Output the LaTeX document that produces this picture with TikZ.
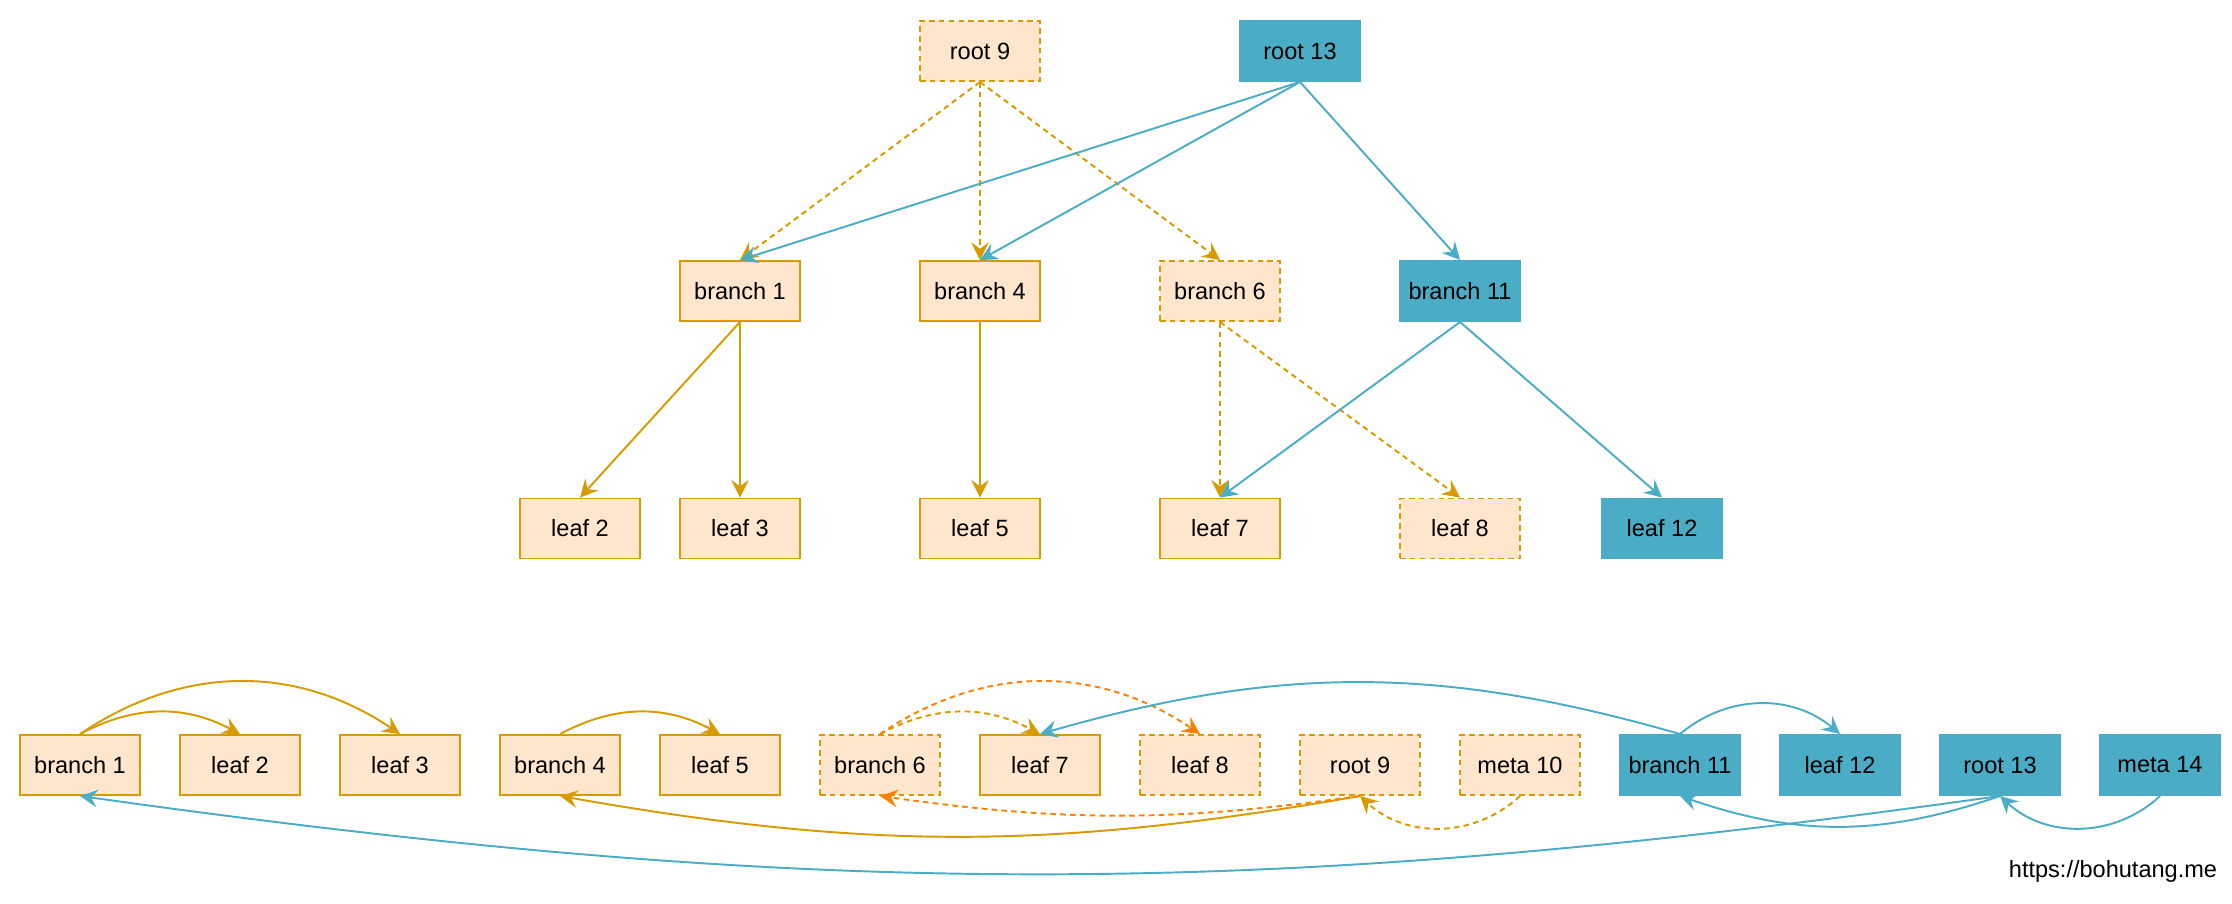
\documentclass[tikz,border=0pt]{standalone}
\usepackage{fontspec}
\setmainfont{Liberation Sans}
\usetikzlibrary{arrows.meta}
\definecolor{lineorange}{HTML}{D79B00}
\definecolor{fillorange}{HTML}{FFE6CC}
\definecolor{hotorange}{HTML}{FF8000}
\definecolor{nodeblue}{HTML}{4BACC6}
\begin{document}
\begin{tikzpicture}[>={Stealth[length=5pt, width=5pt, inset=1.8pt]}, font=\fontsize{6.7}{8}\selectfont, line width=0.55pt,
        dashline/.style={dash pattern=on 1.6pt off 1.2pt},
        page/.style={draw=lineorange, fill=fillorange, rectangle, minimum width=1.2cm, minimum height=0.6cm, inner sep=0pt},
        freed/.style={page, dashline},
        cow/.style={draw=nodeblue, fill=nodeblue, rectangle, minimum width=1.2cm, minimum height=0.6cm, inner sep=0pt}]
        \useasboundingbox (0, 0) rectangle (22.32, -9.04);

        % Tree: roots
        \node[freed] (root9) at (9.8, -0.51) {root 9};
        \node[cow] (root13) at (13.0, -0.51) {root 13};

        % Tree: branches
        \node[page] (branch1) at (7.4, -2.91) {branch 1};
        \node[page] (branch4) at (9.8, -2.91) {branch 4};
        \node[freed] (branch6) at (12.2, -2.91) {branch 6};
        \node[cow] (branch11) at (14.6, -2.91) {branch 11};

        % Tree: leaves
        \node[page] (leaf2) at (5.8, -5.285) {leaf 2};
        \node[page] (leaf3) at (7.4, -5.285) {leaf 3};
        \node[page] (leaf5) at (9.8, -5.285) {leaf 5};
        \node[page] (leaf7) at (12.2, -5.285) {leaf 7};
        \node[freed] (leaf8) at (14.6, -5.285) {leaf 8};
        \node[cow] (leaf12) at (16.62, -5.285) {leaf 12};

        % Tree: links
        \draw[->, lineorange, dashline] (root9.south) -- (branch1.north);
        \draw[->, lineorange, dashline] (root9.south) -- (branch4.north);
        \draw[->, lineorange, dashline] (root9.south) -- (branch6.north);
        \draw[->, nodeblue] (root13.south) -- (branch1.north);
        \draw[->, nodeblue] (root13.south) -- (branch4.north);
        \draw[->, nodeblue] (root13.south) -- (branch11.north);
        \draw[->, lineorange] (branch1.south) -- (leaf2.north);
        \draw[->, lineorange] (branch1.south) -- (leaf3.north);
        \draw[->, lineorange] (branch4.south) -- (leaf5.north);
        \draw[->, lineorange, dashline] (branch6.south) -- (leaf7.north);
        \draw[->, lineorange, dashline] (branch6.south) -- (leaf8.north);
        \draw[->, nodeblue] (branch11.south) -- (leaf7.north);
        \draw[->, nodeblue] (branch11.south) -- (leaf12.north);

        % Pages on disk
        \node[page] (slot1) at (0.8, -7.65) {branch 1};
        \node[page] (slot2) at (2.4, -7.65) {leaf 2};
        \node[page] (slot3) at (4.0, -7.65) {leaf 3};
        \node[page] (slot4) at (5.6, -7.65) {branch 4};
        \node[page] (slot5) at (7.2, -7.65) {leaf 5};
        \node[freed] (slot6) at (8.8, -7.65) {branch 6};
        \node[page] (slot7) at (10.4, -7.65) {leaf 7};
        \node[freed] (slot8) at (12.0, -7.65) {leaf 8};
        \node[freed] (slot9) at (13.6, -7.65) {root 9};
        \node[freed] (slot10) at (15.2, -7.65) {meta 10};
        \node[cow] (slot11) at (16.8, -7.65) {branch 11};
        \node[cow] (slot12) at (18.4, -7.65) {leaf 12};
        \node[cow] (slot13) at (20.0, -7.65) {root 13};
        \node[cow] (slot14) at (21.6, -7.65) {meta 14};

        % Pointers above the pages
        \draw[->, lineorange] (slot1.north) to[bend left=28] (slot2.north);
        \draw[->, lineorange] (slot1.north) to[bend left=34] (slot3.north);
        \draw[->, lineorange] (slot4.north) to[bend left=28] (slot5.north);
        \draw[->, lineorange, dashline] (slot6.north) to[bend left=28] (slot7.north);
        \draw[->, hotorange, dashline] (slot6.north) to[bend left=34] (slot8.north);
        \draw[->, nodeblue] (slot11.north) to[bend right=16] (slot7.north);
        \draw[->, nodeblue] (slot11.north) to[bend left=40] (slot12.north);

        % Pointers below the pages
        \draw[->, lineorange] (slot9.south) to[bend left=10] (slot4.south);
        \draw[->, hotorange, dashline] (slot9.south) to[bend left=8] (slot6.south);
        \draw[->, lineorange, dashline] (slot10.south) to[bend left=43] (slot9.south);
        \draw[->, nodeblue] (slot13.south) to[bend left=19] (slot11.south);
        \draw[->, nodeblue] (slot13.south) to[bend left=8] (slot1.south);
        \draw[->, nodeblue] (slot14.south) to[bend left=43] (slot13.south);

        \node[anchor=east, inner sep=0pt] (site) at (22.18, -8.71) {https://bohutang.me};
    \end{tikzpicture}
\end{document}
